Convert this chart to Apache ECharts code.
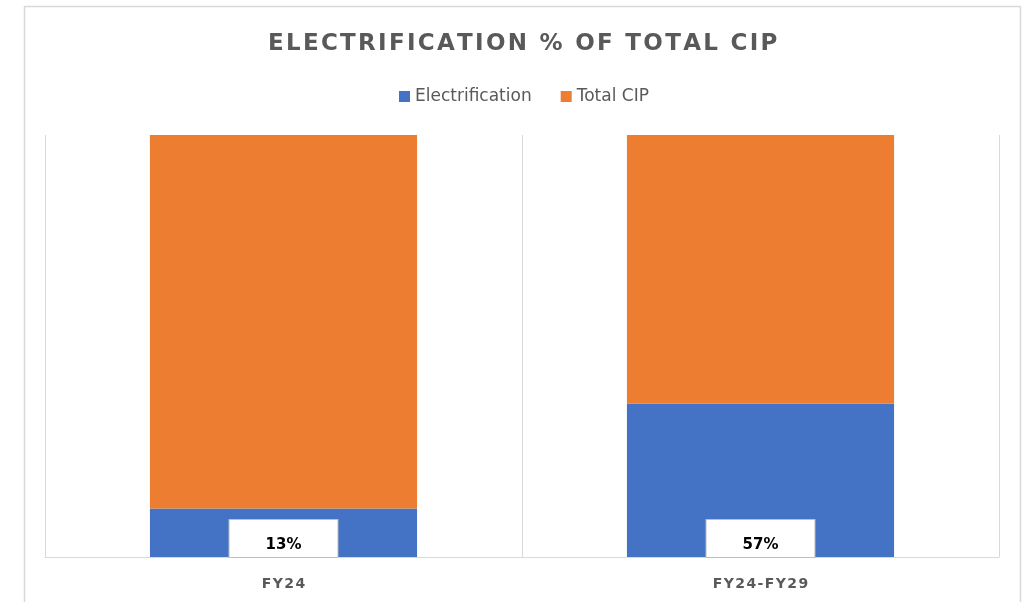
<!DOCTYPE html>
<html>
<head>
<meta charset="utf-8">
<script src="https://cdn.jsdelivr.net/npm/echarts@6/dist/echarts.min.js"></script>
<style>
  html, body { margin: 0; padding: 0; background: #fff; }
  #chart { width: 1028px; height: 602px; }
</style>
</head>
<body>
<div id="chart"></div>
<script>
// data
var categories = ['FY24', 'FY24-FY29'];
var electrification = [13, 57];   // % of total CIP
var totalCip = [100, 100];

// 100% stacked: each bar split by share of (electrification + total)
var elecShare = electrification.map(function (v, i) { return v / (v + totalCip[i]) * 100; });
var cipShare = totalCip.map(function (v, i) { return v / (electrification[i] + v) * 100; });

// spread letters a little, like the spaced caps of the original
function spaced(s) { return s.split('').join('\u200A'); }

var myChart = echarts.init(document.getElementById('chart'));

var option = {
    animation: false,
    title: {
        text: spaced('ELECTRIFICATION % OF TOTAL CIP'),
        left: 263,
        top: 28,
        textStyle: {
            fontFamily: 'DejaVu Sans',
            fontSize: 23,
            fontWeight: 'bold',
            color: '#595959'
        }
    },
    legend: {
        top: 83,
        left: 394,
        icon: 'rect',
        itemWidth: 11,
        itemHeight: 11,
        itemGap: 29,
        textStyle: {
            fontFamily: 'DejaVu Sans',
            fontSize: 17,
            color: '#595959'
        },
        data: ['Electrification', 'Total CIP']
    },
    graphic: [{
        type: 'rect',
        shape: { x: 24.5, y: 6.5, width: 996, height: 620 },
        style: { fill: 'none', stroke: '#d9d9d9', lineWidth: 1.5 },
        silent: true
    }],
    grid: {
        left: 45,
        right: 29,
        top: 135,
        bottom: 45
    },
    xAxis: {
        type: 'category',
        data: categories,
        axisTick: { show: false },
        axisLine: { lineStyle: { color: '#d9d9d9', width: 1 } },
        splitLine: { show: true, lineStyle: { color: '#d9d9d9', width: 1 } },
        axisLabel: {
            margin: 20,
            fontFamily: 'DejaVu Sans',
            fontSize: 14,
            fontWeight: 'bold',
            color: '#595959',
            formatter: function (v) { return spaced(v); }
        }
    },
    yAxis: {
        type: 'value',
        min: 0,
        max: 100,
        show: false,
        splitLine: { show: false }
    },
    series: [{
        name: 'Electrification',
        type: 'bar',
        stack: 'cip',
        barWidth: '56%',
        itemStyle: { color: '#4472c4' },
        data: elecShare,
        label: {
            show: true,
            position: 'insideBottom',
            distance: 0,
            formatter: function (p) { return electrification[p.dataIndex] + '%'; },
            fontFamily: 'DejaVu Sans',
            fontSize: 15,
            fontWeight: 'bold',
            color: '#000',
            backgroundColor: '#fff',
            borderColor: '#bfbfbf',
            borderWidth: 1,
            padding: [18, 36, 4, 36]
        }
    }, {
        name: 'Total CIP',
        type: 'bar',
        stack: 'cip',
        barWidth: '56%',
        itemStyle: { color: '#ed7d31' },
        data: cipShare
    }]
};

myChart.setOption(option);
</script>
</body>
</html>
